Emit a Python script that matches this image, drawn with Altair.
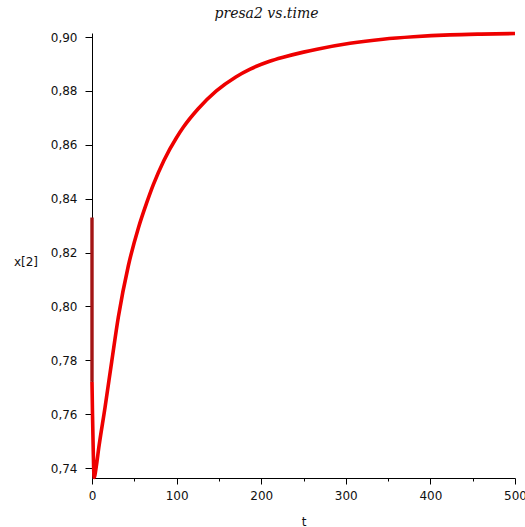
import altair as alt
import pandas as pd

# Simulated trajectory of x[2] (prey 2) over time
t_vals = [0, 0.6, 1.5, 2.5, 5, 8, 15.4, 23.3, 31.1, 42.9, 55, 64.7, 72.5, 85,
          100, 107.9, 125, 147, 170, 187, 210, 226, 250, 266, 305, 344, 380,
          423, 460, 500]
x2_vals = [0.772, 0.760, 0.746, 0.7365, 0.7405, 0.7475, 0.7625, 0.7795, 0.7960,
           0.8150, 0.8293, 0.8385, 0.8452, 0.8542, 0.8627, 0.8665, 0.8732,
           0.8800, 0.8852, 0.8881, 0.8910, 0.8925, 0.8944, 0.8955, 0.8977,
           0.8992, 0.9001, 0.9008, 0.9011, 0.9013]

# Initial transient at t = 0
spike_t = [0, 0]
spike_x2 = [0.833, 0.772]

y_ticks = [round(0.74 + 0.01 * i, 2) for i in range(17)]
x_ticks = list(range(0, 501, 50))

df = pd.DataFrame({"t": t_vals, "x2": x2_vals})
df_spike = pd.DataFrame({"t": spike_t, "x2": spike_x2})

x_scale = alt.Scale(domain=[0, 500], nice=False, zero=False)
y_scale = alt.Scale(domain=[0.7363, 0.9015], nice=False, zero=False)

x_axis = alt.Axis(
    values=x_ticks,
    labelExpr="datum.value % 100 == 0 ? datum.label : ''",
    tickSize={"condition": {"test": "datum.value % 100 == 0", "value": 6}, "value": 3},
    labelPadding=6,
    grid=False,
    title="t",
    titleFont="DejaVu Sans",
    titleFontSize=12,
    titleFontWeight="normal",
    titleBaseline="alphabetic",
    titleY=47,
    labelFlush=False,
)

y_axis = alt.Axis(
    values=y_ticks,
    labelExpr="round(datum.value * 100) % 2 == 0 ? replace(format(datum.value, '.2f'), '.', ',') : ''",
    tickSize={"condition": {"test": "round(datum.value * 100) % 2 == 0", "value": 7}, "value": 5},
    labelPadding=8,
    grid=False,
    title="x[2]",
    titleAngle=0,
    titleAlign="center",
    titleBaseline="alphabetic",
    titleX=-66.5,
    titleY=232,
    titleFont="DejaVu Sans",
    titleFontSize=12,
    titleFontWeight="normal",
    labelFlush=False,
)

curve = alt.Chart(df).mark_line(
    color="#EE0000", strokeWidth=3.6, clip=False, interpolate="monotone"
).encode(
    x=alt.X("t:Q", scale=x_scale, axis=x_axis),
    y=alt.Y("x2:Q", scale=y_scale, axis=y_axis),
)

spike = alt.Chart(df_spike).mark_line(
    color="#A31515", strokeWidth=3.4, clip=False
).encode(
    x=alt.X("t:Q", scale=x_scale),
    y=alt.Y("x2:Q", scale=y_scale),
)

chart = alt.layer(curve, spike).properties(
    width=423,
    height=445,
    background="white",
    title=alt.TitleParams(
        "presa2 vs.time",
        font="DejaVu Serif",
        fontStyle="italic",
        fontWeight="normal",
        fontSize=14,
        color="#111111",
        anchor="middle",
        dx=-37,
        dy=16,
        baseline="alphabetic",
        offset=10,
    ),
    autosize=alt.AutoSizeParams(type="none"),
    padding={"left": 92, "top": 33, "right": 10, "bottom": 49},
).configure_view(
    stroke=None
).configure_axis(
    domainColor="#000000",
    tickColor="#000000",
    labelColor="#111111",
    titleColor="#111111",
    labelFont="DejaVu Sans",
    labelFontSize=12,
    domainWidth=1,
    tickWidth=1,
)

chart.save("out.html", embed_options={"renderer": "svg", "actions": False})
